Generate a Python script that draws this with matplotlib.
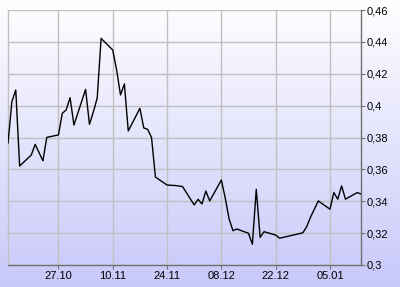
import numpy as np
import pandas as pd
import matplotlib
matplotlib.use("Agg")
import matplotlib.pyplot as plt
import matplotlib.dates as mdates
from matplotlib.ticker import FuncFormatter

# Daily closing values
dates = [
    "2008-10-14", "2008-10-15", "2008-10-16", "2008-10-17", "2008-10-20",
    "2008-10-21", "2008-10-23", "2008-10-24", "2008-10-27", "2008-10-28",
    "2008-10-29", "2008-10-30", "2008-10-31", "2008-11-03", "2008-11-04",
    "2008-11-05", "2008-11-06", "2008-11-07", "2008-11-10", "2008-11-11",
    "2008-11-12", "2008-11-13", "2008-11-14", "2008-11-17", "2008-11-18",
    "2008-11-19", "2008-11-20", "2008-11-21", "2008-11-24", "2008-11-25",
    "2008-11-26", "2008-11-27", "2008-11-28", "2008-12-01", "2008-12-02",
    "2008-12-03", "2008-12-04", "2008-12-05", "2008-12-08", "2008-12-09",
    "2008-12-10", "2008-12-11", "2008-12-12", "2008-12-15", "2008-12-16",
    "2008-12-17", "2008-12-18", "2008-12-19", "2008-12-22", "2008-12-23",
    "2008-12-29", "2008-12-30", "2008-12-31", "2009-01-02", "2009-01-05",
    "2009-01-06", "2009-01-07", "2009-01-08", "2009-01-09", "2009-01-12",
    "2009-01-13",
]
values = [
    0.3765, 0.4025, 0.4098, 0.3621, 0.3690,
    0.3757, 0.3654, 0.3801, 0.3816, 0.3952,
    0.3973, 0.4050, 0.3878, 0.4102, 0.3883,
    0.3960, 0.4048, 0.4422, 0.4349, 0.4224,
    0.4067, 0.4136, 0.3841, 0.3983, 0.3860,
    0.3851, 0.3800, 0.3552, 0.3502, 0.3500,
    0.3499, 0.3496, 0.3492, 0.3377, 0.3412,
    0.3383, 0.3464, 0.3402, 0.3533, 0.3420,
    0.3289, 0.3215, 0.3226, 0.3199, 0.3130,
    0.3475, 0.3173, 0.3209, 0.3188, 0.3168,
    0.3202, 0.3240, 0.3301, 0.3402, 0.3350,
    0.3455, 0.3413, 0.3496, 0.3413, 0.3454,
    0.3446,
]
tick_dates = ["2008-10-27", "2008-11-10", "2008-11-24",
              "2008-12-08", "2008-12-22", "2009-01-05"]
y_ticks = [0.30, 0.32, 0.34, 0.36, 0.38, 0.40, 0.42, 0.44, 0.46]

x = pd.to_datetime(dates)

fig = plt.figure(figsize=(4.0, 2.87), dpi=100)
plt.rcParams["font.family"] = ["Liberation Sans", "DejaVu Sans"]

# background gradient white -> lavender over the whole figure
bg = fig.add_axes([0, 0, 1, 1], zorder=-10)
grad = np.linspace(0, 1, 256).reshape(-1, 1)
top = np.array([1.0, 1.0, 1.0])
bottom = np.array([200, 200, 250]) / 255.0
img = top + (bottom - top) * grad[:, :, None]
bg.imshow(img, aspect="auto", extent=[0, 1, 0, 1], origin="upper")
bg.axis("off")

ax = fig.add_axes([8 / 400, 22 / 287, 353 / 400, 255 / 287])
ax.patch.set_alpha(0)

ax.plot(x, values, color="black", linewidth=1.0, zorder=3)

ax.set_xlim(x[0], x[-1])
ax.set_ylim(0.30, 0.46)

ax.set_xticks(pd.to_datetime(tick_dates))
ax.xaxis.set_major_formatter(mdates.DateFormatter("%d.%m"))
ax.set_yticks(y_ticks)
ax.yaxis.set_major_formatter(FuncFormatter(lambda v, p: f"{v:.2f}".rstrip("0").replace(".", ",")))

ax.yaxis.tick_right()
ax.tick_params(axis="y", direction="out", length=3, width=0.8, color="#707070",
               labelsize=8, pad=1, labelcolor="black")
ax.tick_params(axis="x", direction="out", length=3, width=0.8, color="#707070",
               labelsize=8, pad=1, labelcolor="black")

ax.grid(True, color="#c0c0c0", linewidth=1.0, zorder=1)
ax.set_axisbelow(True)

for side in ["right", "bottom"]:
    ax.spines[side].set_color("#707070")
    ax.spines[side].set_linewidth(1.0)
ax.spines["left"].set_color("#c0c0c0")
ax.spines["left"].set_linewidth(1.0)
ax.spines["top"].set_visible(False)

fig.savefig("out.png", dpi=100)
